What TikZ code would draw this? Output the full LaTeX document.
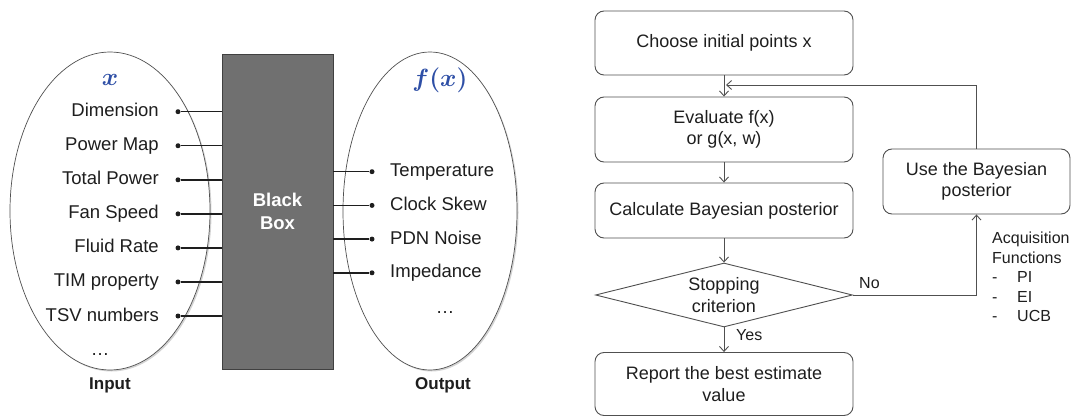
\documentclass[tikz,border=0pt]{standalone}
\usepackage{amsmath}
\usepackage{fontspec}
\setmainfont{Liberation Sans}
\usetikzlibrary{shapes.geometric,arrows.meta,shadows,calc}
\definecolor{ink}{HTML}{1E1E1E}
\definecolor{edge}{HTML}{505050}
\definecolor{boxgray}{HTML}{707070}
\definecolor{varblue}{HTML}{2E4FA6}
\tikzset{
  txt/.style={font=\fontsize{18.5}{22}\selectfont, text=ink, inner sep=0pt},
  flowtxt/.style={font=\fontsize{18}{21.5}\selectfont, text=ink, align=center},
  smalltxt/.style={font=\fontsize{16}{19.5}\selectfont, text=ink, inner sep=0pt},
  setshape/.style={ellipse, draw=edge, line width=0.7pt, fill=white, inner sep=0pt,
    drop shadow={shadow xshift=1.5pt, shadow yshift=-1.5pt, opacity=0.35}},
  varlabel/.style={text=varblue, font=\fontsize{24}{28}\selectfont, inner sep=0pt},
  caption/.style={font=\fontsize{17}{20}\selectfont\bfseries, text=ink, inner sep=0pt},
  dot/.style={circle, fill=ink, inner sep=0pt, minimum size=5pt},
  wire/.style={draw=ink, line width=1.4pt},
  stepbox/.style={draw=edge, rounded corners=9pt, line width=0.9pt, minimum width=258pt,
    flowtxt},
  decision/.style={diamond, draw=edge, line width=0.9pt, shape aspect=4, inner sep=0pt,
    minimum width=257pt, minimum height=64pt, flowtxt},
  flow/.style={draw=edge, line width=0.9pt, -{Straight Barb[length=5pt,width=9pt]}},
}
\begin{document}
\begin{tikzpicture}[x=1pt,y=-1pt]
\useasboundingbox (0,0) rectangle (1071,417);

% ---------- input set ----------
\node[setshape, minimum width=200pt, minimum height=318pt] (inset) at (110,211) {};
\node[varlabel] (xlab) at (110,80) {$\boldsymbol{x}$};
\foreach \t [count=\i] in {Dimension, Power Map, Total Power, Fan Speed, Fluid Rate, TIM property, TSV numbers} {
  \node[dot] (ind\i) at (178,{111.7+34.05*(\i-1)}) {};
  \node[txt, anchor=base east] (in\i) at (159,{116.7+34.05*(\i-1)}) {\t};
}
\node[txt] (indots) at (100,355) {\dots};
\node[caption] (inlab) at (110,385) {Input};

% ---------- black box ----------
\node[draw=edge!80!black, fill=boxgray, line width=0.8pt, minimum width=111pt, minimum height=315pt,
  text=white, font=\fontsize{18.5}{23}\selectfont\bfseries, align=center] (bb) at (277.5,211.5) {Black\\Box};

% ---------- output set ----------
\node[setshape, minimum width=174pt, minimum height=318pt] (outset) at (430,211) {};
\node[varlabel] (fxlab) at (440,80) {$\boldsymbol{f(x)}$};
\foreach \t [count=\i] in {Temperature, Clock Skew, PDN Noise, Impedance} {
  \node[dot] (outd\i) at (372,{171.7+33.7*(\i-1)}) {};
  \node[txt, anchor=base west] (out\i) at (390,{176.7+33.7*(\i-1)}) {\t};
}
\node[txt] (outdots) at (445,313) {\dots};
\node[caption] (outlab) at (443,385) {Output};

% wires between the sets and the box
\foreach \i in {1,...,7} \draw[wire] (ind\i) -- (ind\i -| bb.west);
\foreach \i in {1,...,4} \draw[wire] (outd\i -| bb.east) -- (outd\i);

% ---------- optimisation loop ----------
\node[stepbox, minimum height=64pt] (init) at (724,43) {Choose initial points x};
\node[stepbox, minimum height=65pt] (eval) at (724,129.5) {Evaluate f(x)\\or g(x, w)};
\node[stepbox, minimum height=55pt] (post) at (724,210.5) {Calculate Bayesian posterior};
\node[decision] (stop) at (724,295) {Stopping\\criterion};
\node[stepbox, minimum height=63pt] (report) at (724,384) {Report the best estimate\\value};
\node[stepbox, minimum width=187pt, minimum height=65pt] (use) at (976.5,181.5) {Use the Bayesian\\posterior};

\draw[flow] (init) -- (eval);
\draw[flow] (eval) -- (post);
\draw[flow] (post) -- (stop);
\draw[flow] (stop) -- (report);
\draw[flow] (stop.east) -| (use.south);
\coordinate (back) at (726,85);
\draw[flow] (use.north) |- (back);

\node[smalltxt, anchor=west] (yes) at (736,335) {Yes};
\node[smalltxt, anchor=west] (no) at (859,283) {No};
\node[smalltxt, anchor=north west, align=left] (acq) at (992,232)
  {Acquisition\\Functions\\\makebox[25pt][l]{-}PI\\\makebox[25pt][l]{-}EI\\\makebox[25pt][l]{-}UCB};
\end{tikzpicture}
\end{document}
